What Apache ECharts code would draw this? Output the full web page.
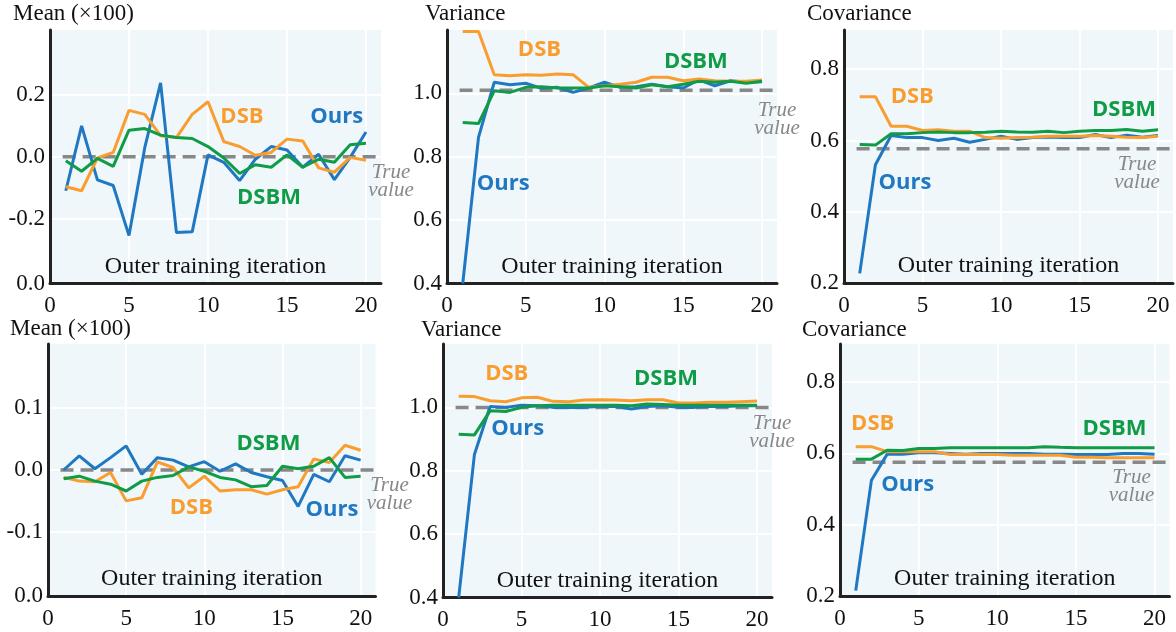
<!DOCTYPE html>
<html>
<head>
<meta charset="utf-8">
<script src="https://cdn.jsdelivr.net/npm/echarts@6/dist/echarts.min.js"></script>
<style>
html,body{margin:0;padding:0;background:#fff;}
#chart{width:1176px;height:632px;}
</style>
</head>
<body>
<div id="chart"></div>
<script>
// ---------------- data ----------------
const iterations = [1,2,3,4,5,6,7,8,9,10,11,12,13,14,15,16,17,18,19,20];
const panelTitles = ['Mean (×100)','Variance','Covariance','Mean (×100)','Variance','Covariance'];
const xAxisName = 'Outer training iteration';
const xTickValues = [0,5,10,15,20];
const yLimits = [[-0.41,0.41],[0.4,1.2],[0.2,0.91],[-0.204,0.204],[0.4,1.2],[0.2,0.907]];
const yGridValues = [[-0.2,0,0.2],[0.6,0.8,1.0],[0.4,0.6,0.8],[-0.1,0,0.1],[0.6,0.8,1.0],[0.4,0.6,0.8]];
const yLabelValues = [[-0.41,-0.2,0,0.2],[0.4,0.6,0.8,1.0],[0.2,0.4,0.6,0.8],[-0.204,-0.1,0,0.1],[0.4,0.6,0.8,1.0],[0.2,0.4,0.6,0.8]];
const yLabelTexts = [['0.0','-0.2','0.0','0.2'],['0.4','0.6','0.8','1.0'],['0.2','0.4','0.6','0.8'],['0.0','-0.1','0.0','0.1'],['0.4','0.6','0.8','1.0'],['0.2','0.4','0.6','0.8']];
const trueValues = [0, 1.01, 0.577, 0, 1.0, 0.575];
const trueLabel = 'True\nvalue';
const methodNames = ['Ours','DSB','DSBM'];

const oursMeanTop = [-0.11,0.10,-0.075,-0.093,-0.255,0.03,0.239,-0.245,-0.243,0.006,-0.018,-0.077,-0.008,0.033,0.022,-0.034,0.008,-0.074,-0.002,0.08];
const dsbMeanTop  = [-0.097,-0.11,-0.004,0.014,0.15,0.137,0.068,0.062,0.137,0.178,0.049,0.033,0.005,0.014,0.057,0.051,-0.036,-0.05,-0.002,-0.011];
const dsbmMeanTop = [-0.013,-0.047,-0.005,-0.031,0.086,0.091,0.07,0.062,0.059,0.033,-0.004,-0.054,-0.026,-0.034,0.006,-0.034,-0.008,-0.018,0.039,0.044];

const oursVarTop = [0.40,0.861,1.035,1.027,1.032,1.016,1.019,1.003,1.017,1.035,1.019,1.021,1.029,1.021,1.017,1.043,1.024,1.04,1.035,1.037];
const dsbVarTop  = [1.195,1.195,1.059,1.056,1.059,1.057,1.061,1.059,1.019,1.024,1.029,1.035,1.051,1.051,1.04,1.045,1.04,1.038,1.038,1.042];
const dsbmVarTop = [0.908,0.905,1.008,1.003,1.019,1.021,1.017,1.017,1.017,1.024,1.021,1.017,1.027,1.021,1.029,1.038,1.035,1.038,1.032,1.038];

const oursCovTop = [0.227,0.532,0.614,0.608,0.608,0.6,0.606,0.595,0.603,0.612,0.603,0.608,0.61,0.608,0.608,0.617,0.608,0.615,0.609,0.614];
const dsbCovTop  = [0.723,0.723,0.64,0.64,0.628,0.63,0.626,0.626,0.608,0.606,0.608,0.609,0.612,0.612,0.612,0.614,0.612,0.609,0.608,0.612];
const dsbmCovTop = [0.589,0.587,0.619,0.619,0.622,0.624,0.622,0.622,0.623,0.626,0.624,0.623,0.626,0.622,0.626,0.628,0.628,0.631,0.626,0.63];

const oursMeanBot = [0.0,0.023,0.002,0.02,0.039,-0.007,0.02,0.016,0.005,0.0135,-0.002,0.01,-0.004,-0.011,-0.017,-0.059,-0.007,-0.019,0.023,0.016];
const dsbMeanBot  = [-0.012,-0.018,-0.019,-0.004,-0.05,-0.045,0.013,0.004,-0.029,-0.01,-0.034,-0.032,-0.032,-0.039,-0.032,-0.027,0.018,0.012,0.04,0.032];
const dsbmMeanBot = [-0.014,-0.01,-0.018,-0.023,-0.034,-0.018,-0.012,-0.009,0.005,-0.002,-0.012,-0.016,-0.027,-0.025,0.006,0.002,0.006,0.02,-0.012,-0.01];

const oursVarBot = [0.40,0.851,1.003,1.0,1.007,1.005,1.0,1.0,1.0,1.003,1.003,0.995,1.003,1.005,1.0,1.0,1.003,1.003,1.005,1.005];
const dsbVarBot  = [1.035,1.034,1.021,1.018,1.03,1.032,1.019,1.018,1.023,1.024,1.023,1.021,1.024,1.024,1.014,1.014,1.016,1.016,1.018,1.02];
const dsbmVarBot = [0.915,0.913,0.989,0.987,1.0,1.005,1.007,1.007,1.007,1.007,1.007,1.005,1.011,1.009,1.007,1.007,1.007,1.007,1.007,1.007];

const oursCovBot = [0.215,0.525,0.598,0.598,0.602,0.602,0.6,0.598,0.6,0.6,0.6,0.6,0.598,0.598,0.597,0.597,0.597,0.6,0.6,0.598];
const dsbCovBot  = [0.619,0.619,0.605,0.605,0.605,0.605,0.597,0.597,0.597,0.597,0.595,0.595,0.595,0.595,0.589,0.589,0.588,0.588,0.588,0.588];
const dsbmCovBot = [0.584,0.584,0.609,0.608,0.614,0.614,0.616,0.616,0.616,0.616,0.616,0.616,0.619,0.617,0.616,0.616,0.616,0.616,0.616,0.616];

const panelSeries = [
  [oursMeanTop, dsbMeanTop, dsbmMeanTop],
  [oursVarTop, dsbVarTop, dsbmVarTop],
  [oursCovTop, dsbCovTop, dsbmCovTop],
  [oursMeanBot, dsbMeanBot, dsbmMeanBot],
  [oursVarBot, dsbVarBot, dsbmVarBot],
  [oursCovBot, dsbCovBot, dsbmCovBot]
];

// ---------------- layout / style ----------------
const colors = {Ours:'#1f78c1', DSB:'#f99d2e', DSBM:'#109b46'};
const serif = "'Liberation Serif','DejaVu Serif',serif";
const X_MAX = 20.95, TRUE_START = 0.8;
const grids = [
  {left:50,  top:30,  width:331,   height:253.5},
  {left:447, top:30,  width:330,   height:253.5},
  {left:844, top:30,  width:329,   height:253},
  {left:48,  top:344, width:327.5, height:252},
  {left:443, top:344, width:329,   height:253.5},
  {left:840, top:344, width:329.5, height:252}
];
const titlePos = [[13,2],[425,2],[807,2],[10,317],[421,318],[802,318]];
// annotation anchor points (data coords) for method names
const nameAnchors = [
  {Ours:[18.15,0.128], DSB:[12.15,0.131], DSBM:[13.86,-0.131]},
  {Ours:[3.57,0.716],  DSB:[5.87,1.137],  DSBM:[15.8,1.10]},
  {Ours:[3.88,0.481],  DSB:[4.35,0.723],  DSBM:[17.83,0.687]},
  {Ours:[18.17,-0.064],DSB:[9.17,-0.061], DSBM:[14.1,0.042]},
  {Ours:[4.76,0.934],  DSB:[4.06,1.105],  DSBM:[14.2,1.09]},
  {Ours:[4.31,0.511],  DSB:[2.08,0.683],  DSBM:[17.45,0.668]}
];
const trueLabelOffsets = [[10,25],[0,29],[-36,25],[14,24],[0,25],[-38,24]];

const option = {
  animation:false,
  backgroundColor:'#fff',
  title:[], grid:[], xAxis:[], yAxis:[], series:[]
};

for (let p = 0; p < 6; p++) {
  const g = grids[p];
  option.title.push({
    text: panelTitles[p], left: titlePos[p][0], top: titlePos[p][1], padding:0,
    textStyle:{fontFamily:serif, fontSize:23, fontWeight:'normal', color:'#111'}
  });
  option.grid.push({
    left:g.left, top:g.top, width:g.width, height:g.height,
    show:true, backgroundColor:'#eff7fb', borderWidth:0,
    containLabel:false, outerBoundsMode:'none'
  });
  option.xAxis.push({
    type:'value', gridIndex:p, min:0, max:X_MAX,
    name:xAxisName, nameLocation:'middle', nameGap:-17,
    nameTextStyle:{fontFamily:serif, fontSize:24, color:'#111', verticalAlign:'middle'},
    axisLine:{show:true, onZero:false, lineStyle:{color:'#222', width:3}},
    axisTick:{show:false, customValues:xTickValues.slice(1)},
    axisLabel:{customValues:xTickValues, margin:11, fontFamily:serif, fontSize:23, color:'#111',
      formatter:(v)=>String(Math.round(v))},
    splitLine:{show:true, lineStyle:{color:'#ffffff', width:2}}
  });
  const labVals = yLabelValues[p], labTxt = yLabelTexts[p];
  option.yAxis.push({
    type:'value', gridIndex:p, min:yLimits[p][0], max:yLimits[p][1],
    axisLine:{show:true, onZero:false, lineStyle:{color:'#222', width:3}},
    axisTick:{show:false, customValues:yGridValues[p]},
    axisLabel:{customValues:labVals, margin:5, fontFamily:serif, fontSize:23, color:'#111',
      formatter:(v)=>{
        let best=0, bd=1e9;
        labVals.forEach((lv,i)=>{const d=Math.abs(lv-v); if(d<bd){bd=d;best=i;}});
        return labTxt[best];
      }},
    splitLine:{show:true, lineStyle:{color:'#ffffff', width:2}}
  });
  // true value dashed line
  option.series.push({
    type:'line', xAxisIndex:p, yAxisIndex:p, name:'True value',
    data:[[TRUE_START, trueValues[p]],[X_MAX, trueValues[p]]],
    symbol:'none', silent:true, z:2,
    lineStyle:{color:'#888', width:3.5, type:[13,7]},
    markPoint:{
      symbol:'circle', symbolSize:0, silent:true,
      label:{show:true, position:'inside', formatter:trueLabel, offset:trueLabelOffsets[p],
        fontFamily:serif, fontStyle:'italic', fontSize:21, lineHeight:18, color:'#888', align:'center'},
      data:[{coord:[X_MAX, trueValues[p]]}]
    }
  });
  methodNames.forEach((m, k) => {
    const vals = panelSeries[p][k];
    option.series.push({
      type:'line', xAxisIndex:p, yAxisIndex:p, name:m,
      data: iterations.map((it, i) => [it, vals[i]]),
      symbol:'none', clip:true, z:3+k,
      lineStyle:{color:colors[m], width:3},
      markPoint:{
        symbol:'circle', symbolSize:0, silent:true,
        label:{show:true, position:'inside', formatter:m,
          fontFamily:"'Open Sans','Noto Sans','DejaVu Sans',sans-serif", fontWeight:'bold', fontSize:22, color:colors[m]},
        data:[{coord:nameAnchors[p][m]}]
      }
    });
  });
}

const chart = echarts.init(document.getElementById('chart'), null, {renderer:'canvas'});
chart.setOption(option);
</script>
</body>
</html>
